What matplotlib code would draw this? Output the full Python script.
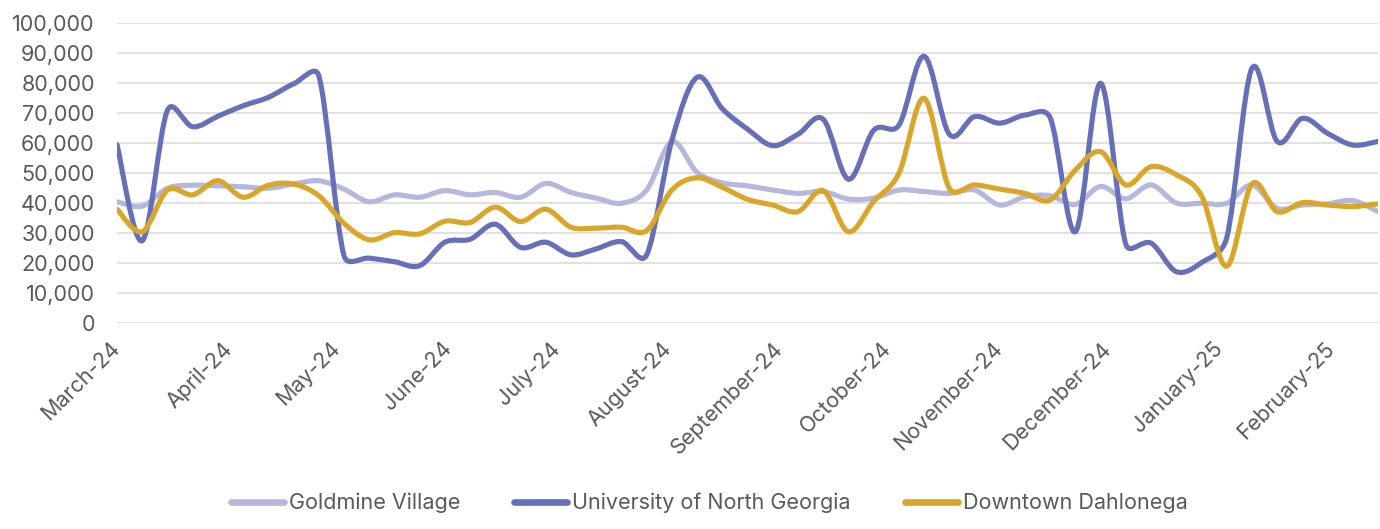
import numpy as np
import pandas as pd
import matplotlib
matplotlib.use("Agg")
import matplotlib.pyplot as plt
import matplotlib.dates as mdates
from matplotlib.path import Path
from matplotlib.patches import PathPatch
from matplotlib.lines import Line2D

plt.rcParams['font.family'] = ['Inter', 'DejaVu Sans']

# weekly counts, Mar 2024 - Feb 2025
weeks = pd.date_range('2024-03-03', periods=51, freq='7D')

goldmine_village = [
    40500, 39000, 45000, 46000, 45800, 45500, 45000, 46400, 47500, 44700,
    40500, 42800, 42000, 44200, 42800, 43600, 42000, 46600, 43600, 41700,
    40000, 44400, 60500, 50300, 46800, 45800, 44400, 43300, 43900, 41400,
    41700, 44400, 43900, 43300, 44400, 39400, 42200, 42500, 39600, 45600,
    41500, 46100, 40100, 40000, 40000, 46100, 38300, 39400, 39800, 40900,
    37200,
]
university_north_georgia = [
    59500, 27500, 71000, 65500, 69000, 72500, 75300, 79800, 82500, 22500,
    21700, 20500, 19200, 27000, 28000, 33000, 25300, 27000, 22800, 24800,
    27200, 22800, 61000, 82000, 71500, 64700, 59200, 63000, 68000, 48000,
    64300, 66000, 89000, 63000, 68900, 66700, 69400, 68500, 30500, 80000,
    26300, 26700, 17200, 20200, 28500, 85000, 60600, 68300, 63300, 59400,
    60600,
]
downtown_dahlonega = [
    38000, 30500, 44400, 42800, 47500, 42000, 46000, 46400, 42500, 33300,
    27800, 30200, 29800, 34000, 33600, 38700, 33900, 38000, 32000, 31700,
    32000, 30900, 44400, 48500, 45300, 41300, 39400, 37200, 44200, 30500,
    40600, 50000, 75000, 45000, 46100, 44700, 43300, 41100, 51100, 57200,
    46100, 52200, 49500, 42500, 19000, 46400, 37200, 40200, 39400, 38900,
    39800,
]

series = [
    ('Goldmine Village', goldmine_village, '#b4b8dc'),
    ('University of North Georgia', university_north_georgia, '#6670b8'),
    ('Downtown Dahlonega', downtown_dahlonega, '#d9a62a'),
]


def smooth_path(ax, x, y):
    # Excel-style smoothed line: bezier segments whose handles are (p[i+1]-p[i-1])/6,
    # but never longer than half the segment (measured on screen)
    pts = ax.transData.transform(np.column_stack([x, y]))
    p = np.vstack([pts[:1], pts, pts[-1:]])
    verts = [pts[0]]
    codes = [Path.MOVETO]
    for i in range(1, len(p) - 2):
        p0, p1, p2, p3 = p[i - 1], p[i], p[i + 1], p[i + 2]
        half = np.hypot(*(p2 - p1)) / 2
        h1 = (p2 - p0) / 6
        h2 = (p3 - p1) / 6
        n1, n2 = np.hypot(*h1), np.hypot(*h2)
        if n1 > half:
            h1 = h1 * half / n1
        if n2 > half:
            h2 = h2 * half / n2
        verts += [p1 + h1, p2 - h2, p2]
        codes += [Path.CURVE4] * 3
    verts = ax.transData.inverted().transform(np.array(verts))
    return Path(verts, codes)


fig = plt.figure(figsize=(13.8, 5.29), dpi=100)
ax = fig.add_axes([0.0848, 0.389, 0.9138, 0.567])

xnum = mdates.date2num(weeks)
ax.set_xlim(xnum[0], xnum[-1])
ax.set_ylim(0, 100000)

handles = []
for name, vals, color in series:
    patch = PathPatch(smooth_path(ax, xnum, vals), fill=False, edgecolor=color,
                      lw=3.7, capstyle='round', joinstyle='round', zorder=3)
    ax.add_patch(patch)
    handles.append(Line2D([], [], color=color, lw=4.8, solid_capstyle='round', label=name))

ax.set_yticks(np.arange(0, 100001, 10000))
ax.yaxis.set_major_formatter(matplotlib.ticker.FuncFormatter(lambda v, p: f'{v:,.0f}'))
ax.xaxis.set_major_locator(mdates.MonthLocator(bymonthday=3))
ax.xaxis.set_major_formatter(mdates.DateFormatter('%B-%y'))

ax.grid(axis='y', color='#d9d9d9', lw=1.1)
ax.set_axisbelow(True)
for s in ax.spines.values():
    s.set_visible(False)
ax.tick_params(axis='both', length=0, labelsize=15.5, labelcolor='#595959')
ax.tick_params(axis='y', pad=16)
ax.tick_params(axis='x', pad=16)
for lbl in ax.get_xticklabels():
    lbl.set_rotation(45)
    lbl.set_ha('right')
    lbl.set_va('center')
    lbl.set_rotation_mode('anchor')

fig.legend(handles=handles, loc='center', bbox_to_anchor=(0.514, 0.049), ncol=3,
           frameon=False, fontsize=15.5, handlelength=2.45, handletextpad=0.25,
           columnspacing=2.5, labelcolor='#595959')

fig.savefig('out.png', dpi=100, facecolor='white')
